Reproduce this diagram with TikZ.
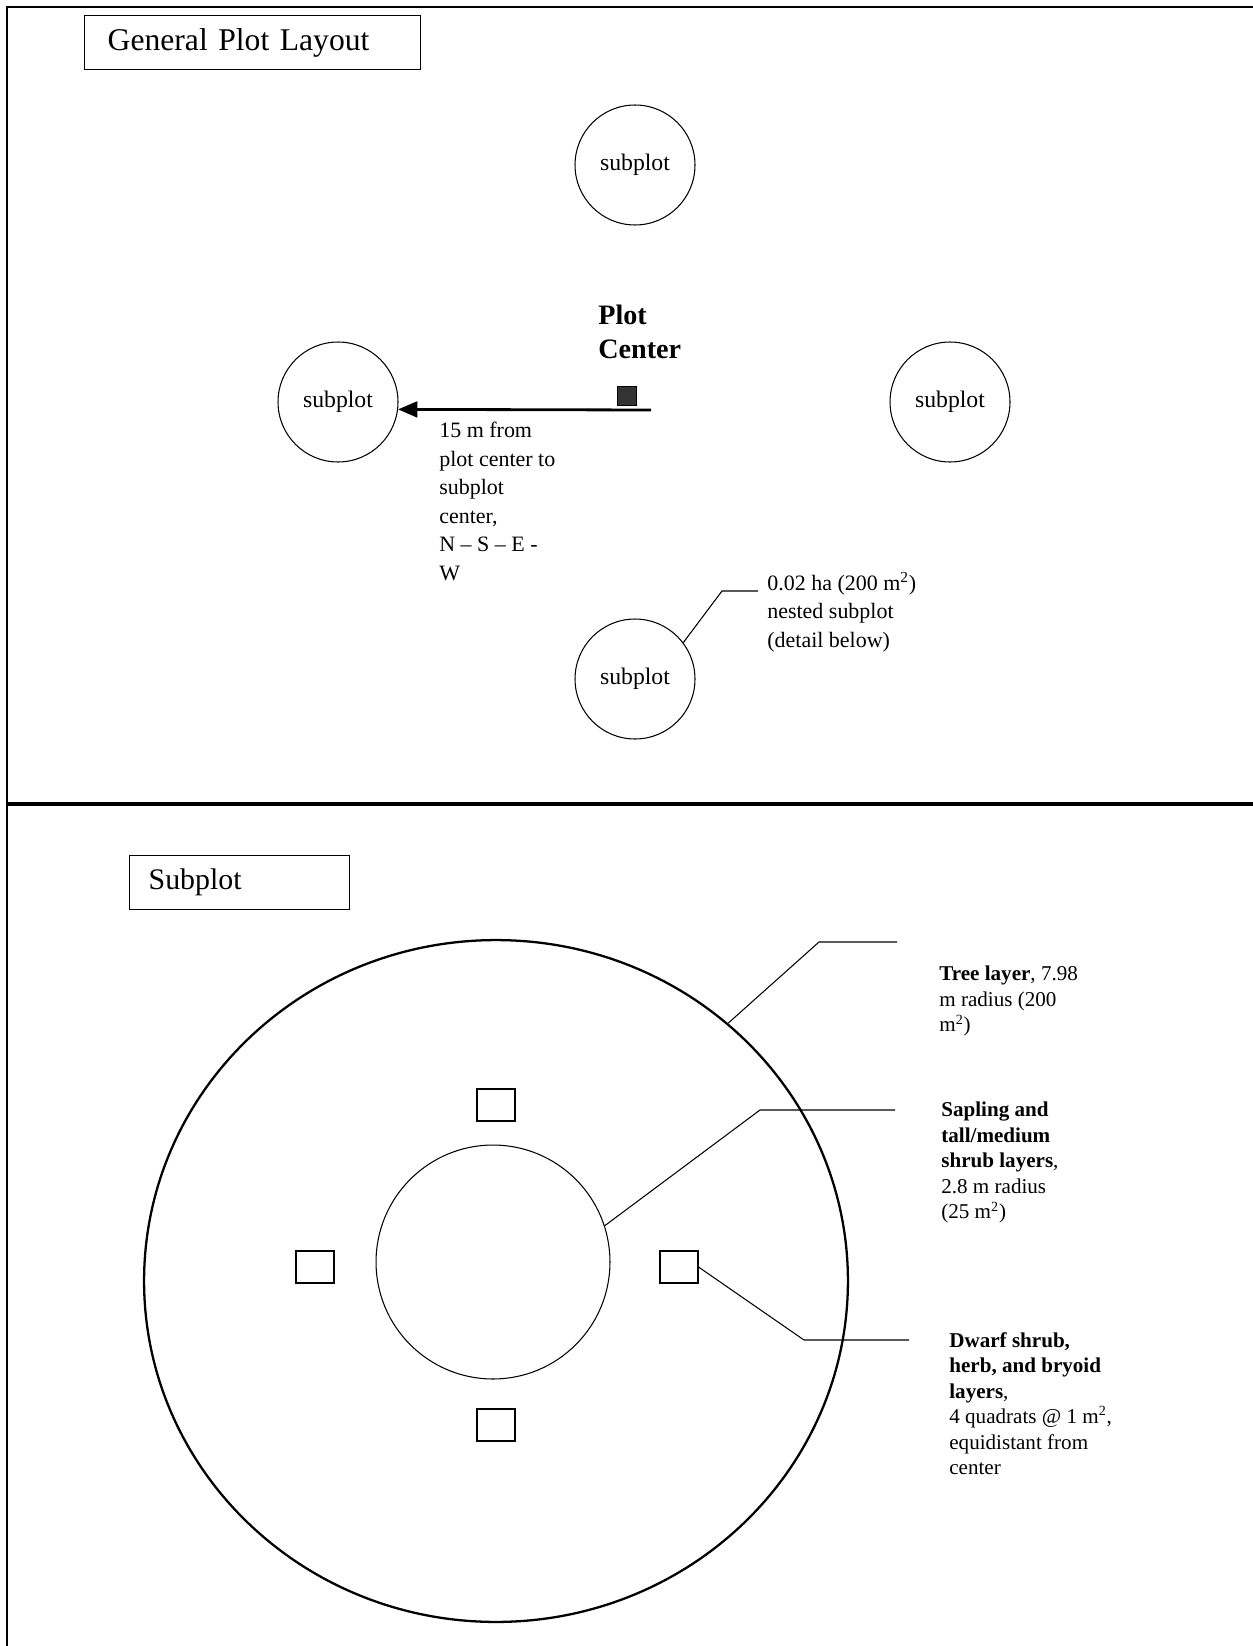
\documentclass[tikz,border=0pt]{standalone}
\usepackage{fontspec}
\setmainfont{Liberation Serif}
\usetikzlibrary{arrows.meta,shapes.geometric}
\begin{document}
\begin{tikzpicture}[x=0.02cm,y=-0.02cm,every node/.style={inner sep=0pt},
  subcirc/.style={draw,circle,line width=0.6pt,minimum size=2.4cm,font=\fontsize{13.5}{16}\selectfont},
  quadrat/.style={draw,line width=0.6pt,minimum width=0.76cm,minimum height=0.64cm},
  titlebox/.style={draw,line width=0.8pt,anchor=north west,minimum height=1.08cm,align=left},
  note/.style={anchor=north west,align=left},
  lead/.style={line width=0.6pt}]
\useasboundingbox (0,0) rectangle (1253,1646);
\draw[line width=1.6pt] (1253,7) -- (7,7) -- (7,1646);
\draw[line width=2pt] (7,804) -- (1253,804);
\node[titlebox,minimum width=6.72cm,inner xsep=0.46cm,text width=5.8cm,font=\fontsize{18}{20}\selectfont] (gpl) at (84,15) {General Plot Layout};
\node[subcirc] (spn) at (635,165) {subplot};
\node[subcirc] (spw) at (338,402) {subplot};
\node[subcirc] (spe) at (950,402) {subplot};
\node[subcirc] (sps) at (635,679) {subplot};
\node[note,font=\bfseries\fontsize{16}{19.3}\selectfont] (pclab) at (598,305) {Plot\\Center};
\node[draw,fill=black!80,minimum size=0.38cm] (pc) at (627,396) {};
\coordinate (a0) at (651,410);
\draw[line width=1.6pt,-{Triangle[length=11pt,width=9pt]}] (a0) -- (spw.-7);
\node[note,font=\fontsize{12.5}{16.2}\selectfont] (dist) at (439,422) {15 m from\\plot center to\\subplot\\center,\\N -- S -- E -\\W};
\node[note,font=\fontsize{12.5}{16.2}\selectfont] (nest) at (767,572) {0.02 ha (200 m\textsuperscript{2})\\nested subplot\\(detail below)};
\coordinate (nk) at (722,591);
\coordinate (ne) at (758,591);
\draw[lead] (sps.37) -- (nk) -- (ne);
\node[titlebox,minimum width=4.4cm,inner xsep=0.38cm,text width=3.64cm,font=\fontsize{17}{20}\selectfont] (sub) at (129,855) {Subplot};
\node[draw,ellipse,line width=1.3pt,minimum width=14.08cm,minimum height=13.64cm] (tree) at (496,1281) {};
\node[draw,circle,line width=0.6pt,minimum size=4.68cm] (core) at (493,1262) {};
\node[quadrat] (qn) at (496,1105) {};
\node[quadrat] (qw) at (315,1267) {};
\node[quadrat] (qe) at (679,1267) {};
\node[quadrat] (qs) at (496,1425) {};
\node[note,font=\fontsize{12}{14.5}\selectfont] (treelab) at (939,966) {\textbf{Tree layer}, 7.98\\m radius (200\\m\textsuperscript{2})};
\node[note,font=\fontsize{12}{14.5}\selectfont] (saplab) at (941,1102) {\textbf{Sapling and}\\\textbf{tall/medium}\\\textbf{shrub layers},\\2.8 m radius\\(25 m\textsuperscript{2})};
\node[note,font=\fontsize{12}{14.5}\selectfont] (dwarflab) at (949,1332) {\textbf{Dwarf shrub,}\\\textbf{herb, and bryoid}\\\textbf{layers},\\4 quadrats @ 1 m\textsuperscript{2},\\equidistant from\\center};
\coordinate (tk) at (819,942);
\coordinate (te) at (897,942);
\draw[lead] (tree.48) -- (tk) -- (te);
\coordinate (sk) at (760,1110);
\coordinate (se) at (895,1110);
\draw[lead] (core.18) -- (sk) -- (se);
\coordinate (dk) at (804,1340);
\coordinate (de) at (909,1340);
\draw[lead] (qe.east) -- (dk) -- (de);
\end{tikzpicture}
\end{document}
